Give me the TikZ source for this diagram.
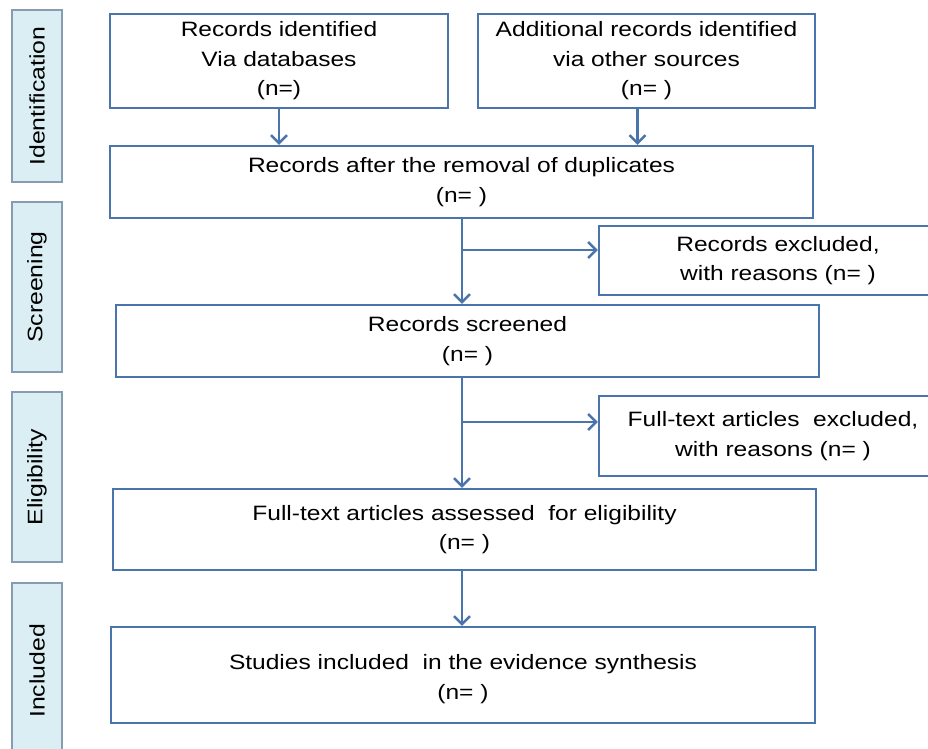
\documentclass[tikz,border=0pt]{standalone}
\usepackage{fontspec}
\setmainfont{Liberation Sans}[FakeStretch=1.18]
\usetikzlibrary{arrows.meta}

\definecolor{boxblue}{RGB}{74,116,172}
\definecolor{phasefill}{RGB}{219,238,244}
\definecolor{phaseline}{RGB}{135,155,178}

\tikzset{flowbox/.style 2 args = {draw = boxblue, line width = 2.4pt, fill = white,
                                  minimum width = #1, minimum height = #2,
                                  inner sep = 0pt, align = center,
                                  font = \fontsize{20.8}{29.5}\selectfont},
         phase/.style = {draw = phaseline, line width = 1.3pt, fill = phasefill,
                         rotate = 90, minimum width = #1, minimum height = 50pt,
                         inner sep = 0pt, font = \fontsize{21}{26}\selectfont},
         flowarrow/.style = {draw = boxblue, line width = 2.4pt,
                             -{Straight Barb[length=8pt, width=16pt, line width=2.4pt]}}
        }

\begin{document}
\begin{tikzpicture}[x = 1pt, y = -1pt]
  \useasboundingbox (0,0) rectangle (928,748);
  \clip (0,0) rectangle (928,748);

  % phases on the left
  \node[phase = 172pt] (ident)  at (37,96)  {Identification};
  \node[phase = 170pt] (screen) at (37,287) {Screening};
  \node[phase = 170pt] (elig)   at (37,477) {Eligibility};
  \node[phase = 176pt] (incl)   at (37,671) {Included};

  % main boxes
  \node[flowbox = {338pt}{94pt}] (db)       at (279,61)    {Records identified\\Via databases\\(n=)};
  \node[flowbox = {337pt}{94pt}] (other)    at (646.5,61)  {Additional records identified\\via other sources\\(n= )};
  \node[flowbox = {703pt}{72pt}] (dup)      at (461.5,182) {Records after the removal of duplicates\\(n= )};
  \node[flowbox = {703pt}{72pt}] (screened) at (467.5,341) {Records screened\\(n= )};
  \node[flowbox = {703pt}{81pt}] (assessed) at (464.5,529.5) {Full-text articles assessed~ for eligibility\\(n= )};
  \node[flowbox = {704pt}{96pt}] (studies)  at (463,675)   {\\[-6pt]Studies included~ in the evidence synthesis\\(n= )};

  % exclusion boxes, running off the right edge
  \node[flowbox = {358pt}{69pt}] (excl1) at (778,260.5) {Records excluded,\\with reasons (n= )};
  \node[flowbox = {348pt}{80pt}] (excl2) at (773,436)   {Full-text articles~ excluded,\\with reasons (n= )};

  % branch points
  \coordinate (br1) at (462,250);
  \coordinate (br2) at (462,422);

  % connectors
  \draw[flowarrow] (db.south) -- (db.south |- dup.north);
  \draw[flowarrow] ([xshift=-9pt]other.south) -- ([xshift=-9pt]other.south |- dup.north);
  \draw[flowarrow] (dup.south -| br1) -- (screened.north -| br1);
  \draw[flowarrow] (br1) -- (br1 -| excl1.west);
  \draw[flowarrow] (screened.south -| br2) -- (assessed.north -| br2);
  \draw[flowarrow] (br2) -- (br2 -| excl2.west);
  \draw[flowarrow] (assessed.south -| br2) -- (studies.north -| br2);
\end{tikzpicture}
\end{document}
